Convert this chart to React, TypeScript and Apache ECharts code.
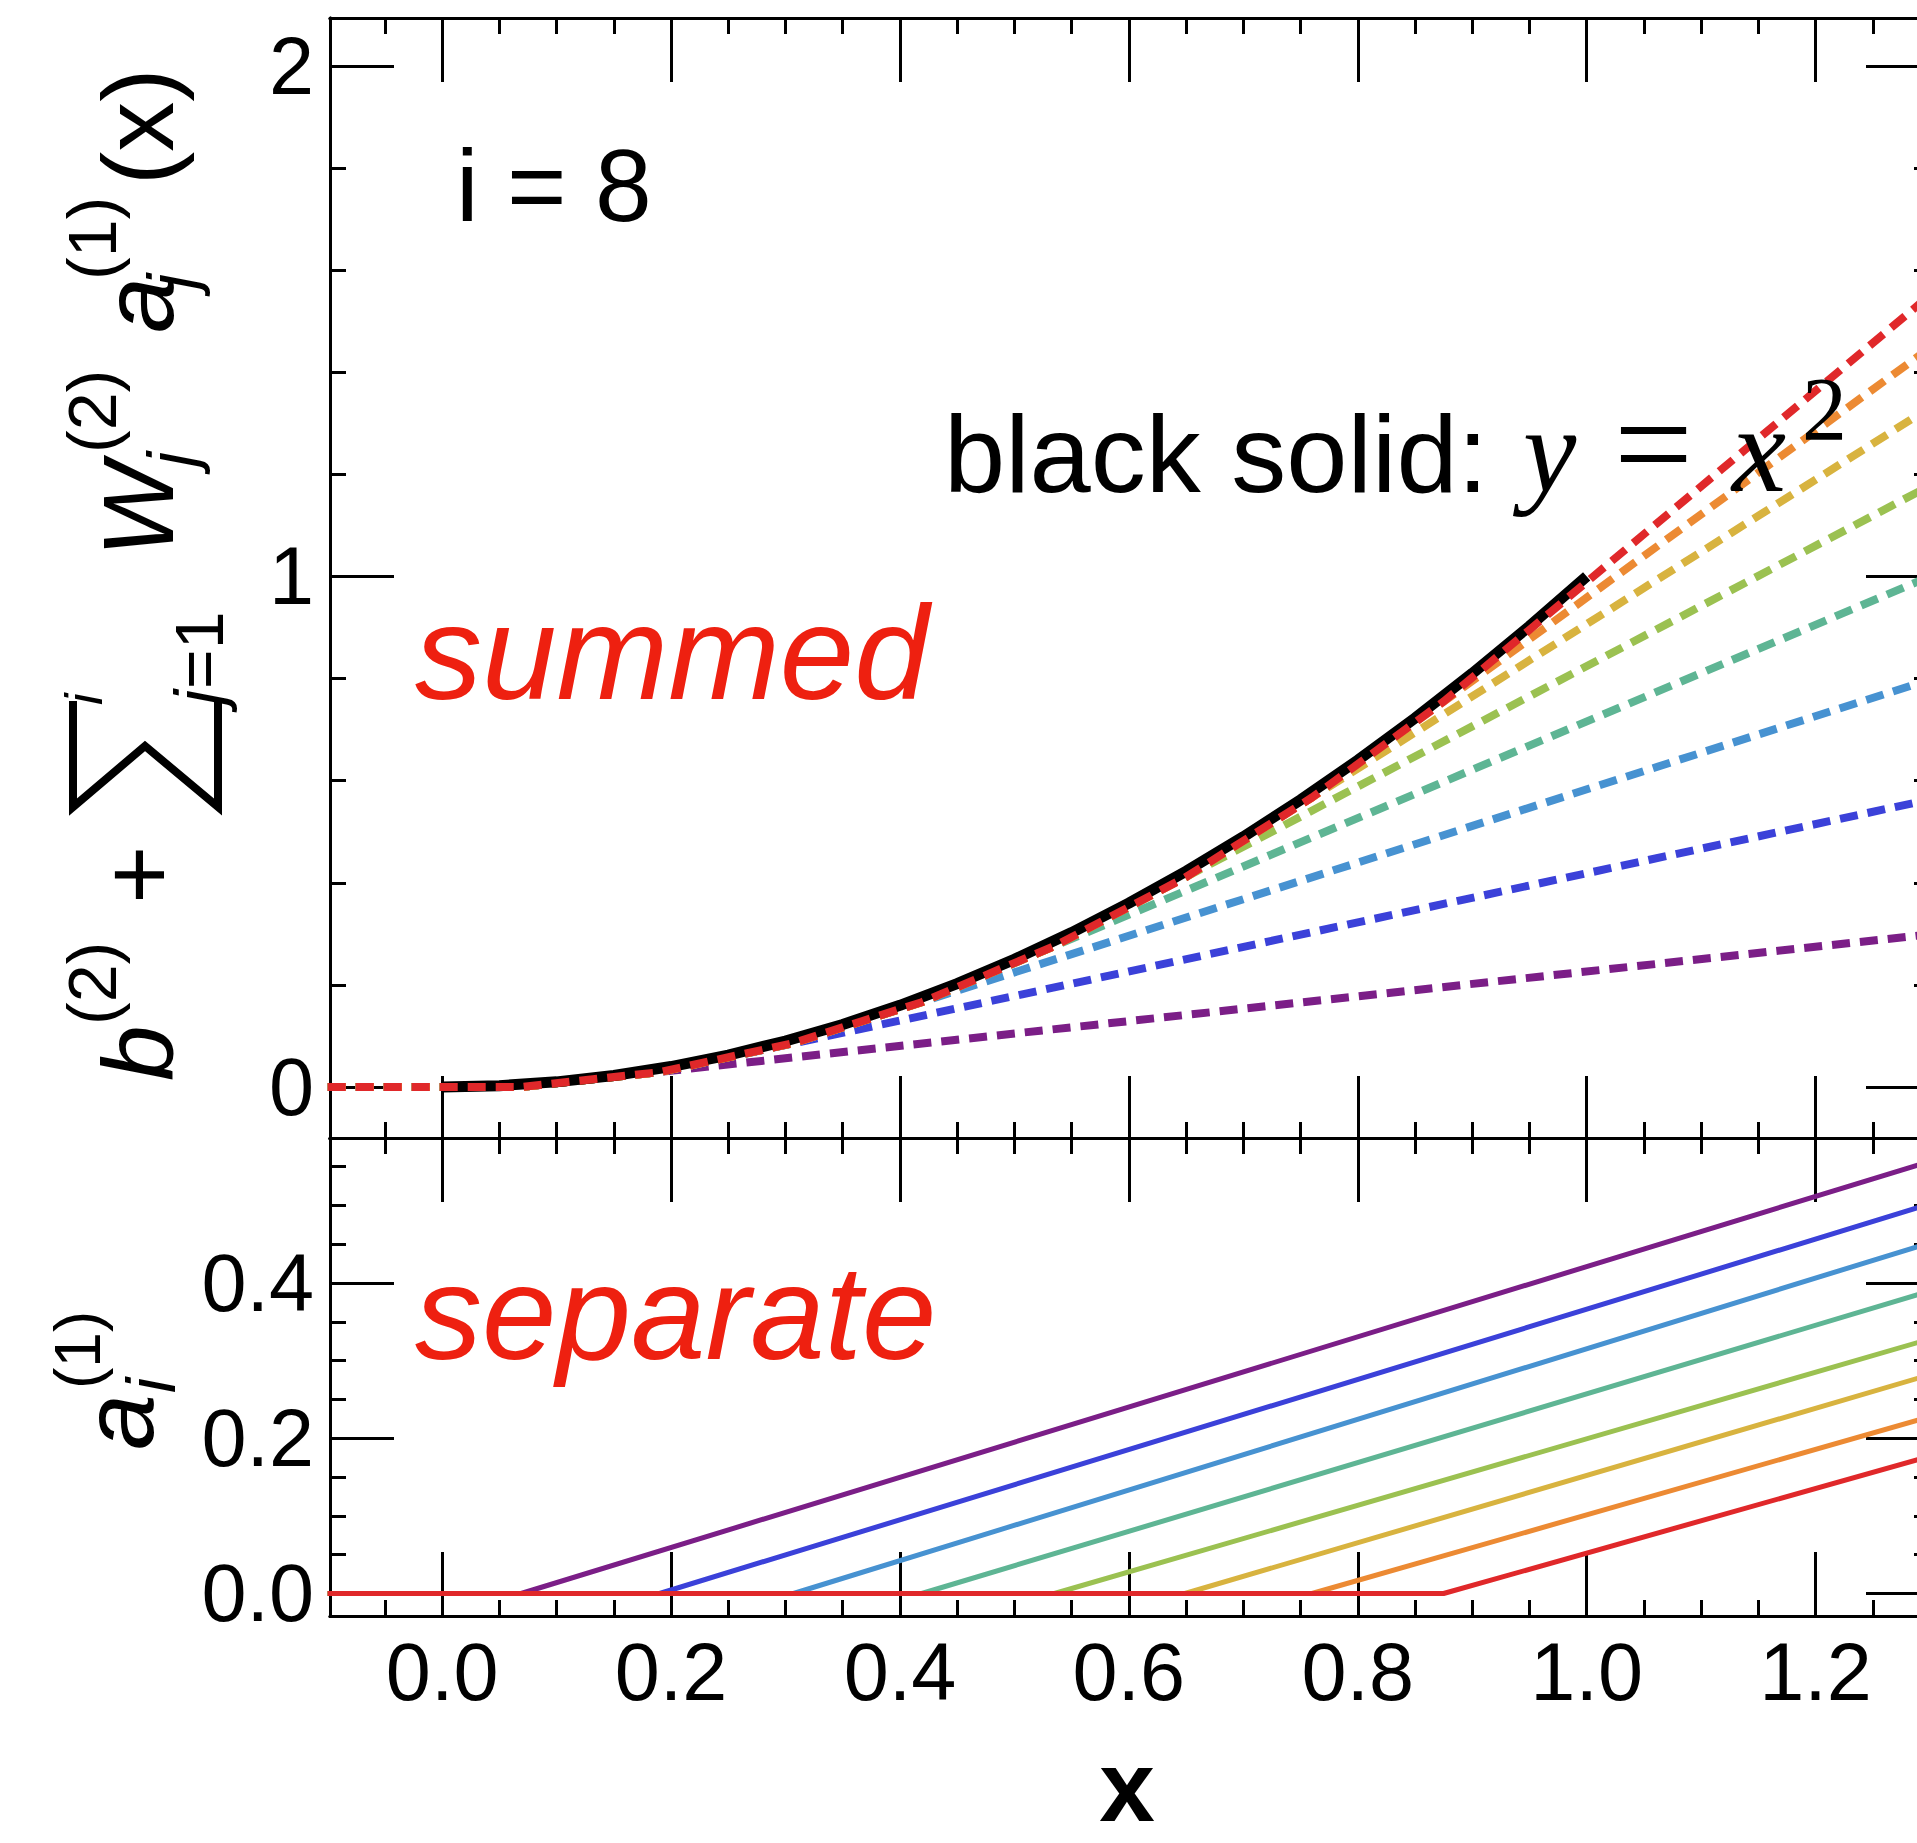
import React, { useEffect, useRef } from "react";
import * as echarts from "echarts";

// ---------------- data ----------------
const xStart = -0.1;
const xEnd = 1.3;
// kink positions of the 8 ReLU units (x where each a_i starts rising)
const kinkX = [0.069, 0.19, 0.307, 0.419, 0.535, 0.649, 0.76, 0.875];
// summed output b + sum W a at each kink
const summedAtKink = [0.0, 0.029, 0.086, 0.166, 0.276, 0.41, 0.567, 0.755];
// summed output (dashed line i) at the right end x = 1.3
const summedAtEnd = [0.299, 0.563, 0.798, 1.0, 1.178, 1.331, 1.448, 1.551];
// separate activations a_i at the right end x = 1.3 (they are 0 before the kink)
const activationFloor = 0;
const activationAtEnd = [0.557, 0.502, 0.452, 0.39, 0.328, 0.282, 0.228, 0.177];
// black solid y = x^2
const parabolaX = [0, 0.05, 0.1, 0.15, 0.2, 0.25, 0.3, 0.35, 0.4, 0.45, 0.5, 0.55, 0.6, 0.65, 0.7, 0.75, 0.8, 0.85, 0.9, 0.95, 1.0];
const parabolaY = [0, 0.0025, 0.01, 0.0225, 0.04, 0.0625, 0.09, 0.1225, 0.16, 0.2025, 0.25, 0.3025, 0.36, 0.4225, 0.49, 0.5625, 0.64, 0.7225, 0.81, 0.9025, 1.0];

const unitColors = ["#7B1E87", "#3B41D9", "#4792D1", "#5EB594", "#9BC151", "#D8B33F", "#EC8A33", "#E0282A"];

// axes
const xRange = [-0.098, 1.3];
const upperYRange = [-0.1, 2.094];
const lowerYRange = [-0.029, 0.587];
const xMajorTicks = [0, 0.2, 0.4, 0.6, 0.8, 1.0, 1.2];
const xMinorTicks = [-0.05, 0.05, 0.1, 0.15, 0.25, 0.3, 0.35, 0.45, 0.5, 0.55, 0.65, 0.7, 0.75, 0.85, 0.9, 0.95, 1.05, 1.1, 1.15, 1.25];
const upperYMajorTicks = [0, 1, 2];
const upperYMinorTicks = [0.2, 0.4, 0.6, 0.8, 1.2, 1.4, 1.6, 1.8];
const lowerYMajorTicks = [0, 0.2, 0.4];
const lowerYMinorTicks = [0.05, 0.1, 0.15, 0.25, 0.3, 0.35, 0.45, 0.5, 0.55];

const FONT = '"Liberation Sans", Arial, Helvetica, sans-serif';
const SERIF = '"Liberation Serif", "Times New Roman", Times, serif';
const RED = "#EE2010";

function txt(x: number, baseline: number, text: string, size: number, extra: any = {}) {
  const family = extra.family || FONT;
  const style: any = {
    text,
    fontSize: size,
    fontFamily: family,
    fontStyle: extra.italic ? "italic" : "normal",
    fontWeight: extra.bold ? "bold" : "normal",
    fill: extra.color || "#000",
    align: extra.align || "left",
    verticalAlign: "middle",
  };
  if (extra.lineHeight) style.lineHeight = extra.lineHeight;
  return {
    type: "text",
    x,
    y: baseline - 0.35 * size,
    z: 100,
    style,
  };
}

function axis(
  grid: number,
  position: string,
  range: number[],
  ticks: number[],
  len: number,
  label?: { fmt: (v: number) => string; margin: number }
) {
  return {
    type: "value",
    gridIndex: grid,
    position,
    min: range[0],
    max: range[1],
    axisLine: { show: true, onZero: false, lineStyle: { color: "#000", width: 3 } },
    axisTick: { show: true, inside: true, length: len, customValues: ticks, lineStyle: { color: "#000", width: 3 } },
    axisLabel: label
      ? {
          show: true,
          customValues: ticks,
          formatter: label.fmt,
          fontSize: 81,
          fontFamily: FONT,
          color: "#000",
          margin: label.margin,
        }
      : { show: false },
    splitLine: { show: false },
    minorTick: { show: false },
  };
}

export default function App() {
  const ref = useRef<HTMLDivElement>(null);
  useEffect(() => {
    if (!ref.current) return;
    const chart = echarts.init(ref.current, undefined, { renderer: "svg" });

    const series: any[] = [];
    const dashedSeries = (k: number) => {
      const pts: number[][] = [[xStart, summedAtKink[0]]];
      for (let j = 0; j <= k; j++) pts.push([kinkX[j], summedAtKink[j]]);
      pts.push([xEnd, summedAtEnd[k]]);
      return {
        type: "line",
        xAxisIndex: 0,
        yAxisIndex: 0,
        data: pts,
        symbol: "none",
        lineStyle: { color: unitColors[k], width: 8, type: [18, 10], cap: "butt" },
        z: 2,
      };
    };
    for (let k = 0; k < 7; k++) series.push(dashedSeries(k));
    series.push({
      type: "line",
      xAxisIndex: 0,
      yAxisIndex: 0,
      data: parabolaX.map((x, i) => [x, parabolaY[i]]),
      symbol: "none",
      lineStyle: { color: "#000", width: 11, type: "solid" },
      z: 2,
    });
    series.push(dashedSeries(7));

    for (let k = 0; k < 8; k++) {
      series.push({
        type: "line",
        xAxisIndex: 4,
        yAxisIndex: 4,
        data: [
          [xStart, activationFloor],
          [kinkX[k], activationFloor],
          [xEnd, activationAtEnd[k]],
        ],
        symbol: "none",
        lineStyle: { color: unitColors[k], width: 5 },
        z: 2,
      });
    }

    const fmt1 = (v: number) => v.toFixed(1);
    const fmt0 = (v: number) => String(Math.round(v));

    const upperTitle = {
      type: "group",
      x: 173,
      y: 1077,
      rotation: Math.PI / 2,
      z: 100,
      children: [
        txt(-4, 0, "b", 100, { italic: true }),
        txt(52, -57, "(2)", 68),
        txt(173, 0, "+", 100),
        {
          type: "polyline",
          shape: { points: [[376, -100], [270, -100], [331, -28], [270, 45], [378, 45]] },
          style: { stroke: "#000", lineWidth: 8, fill: null, lineJoin: "miter" },
        },
        txt(372, -71, "i", 52, { italic: true }),
        txt(372, 50, "j", 68, { italic: true }),
        txt(388, 50, "=1", 68),
        txt(520, 0, "W", 100, { italic: true }),
        txt(610, 23, "j", 68, { italic: true }),
        txt(624, -57, "(2)", 68),
        txt(744, 0, "a", 100, { italic: true }),
        txt(788, 23, "j", 68, { italic: true }),
        txt(797, -57, "(1)", 68),
        txt(892, 0, "(x)", 100),
      ],
    };

    const lowerTitle = {
      type: "group",
      x: 153,
      y: 1447,
      rotation: Math.PI / 2,
      z: 100,
      children: [
        txt(-3, 0, "a", 100, { italic: true }),
        txt(54, 22, "i", 68, { italic: true }),
        txt(58, -53, "(1)", 64),
      ],
    };

    const option: any = {
      animation: false,
      backgroundColor: "#ffffff",
      grid: [
        { left: 330, top: 18, width: 1600, height: 1120, outerBoundsMode: "none", containLabel: false },
        { left: 330, top: 1138, width: 1600, height: 478, outerBoundsMode: "none", containLabel: false },
      ],
      xAxis: [
        axis(0, "bottom", xRange, xMajorTicks, 62),
        axis(0, "bottom", xRange, xMinorTicks, 16),
        axis(0, "top", xRange, xMajorTicks, 64),
        axis(0, "top", xRange, xMinorTicks, 16),
        axis(1, "bottom", xRange, xMajorTicks, 64, { fmt: fmt1, margin: 15 }),
        axis(1, "bottom", xRange, xMinorTicks, 16),
        axis(1, "top", xRange, xMajorTicks, 64),
        axis(1, "top", xRange, xMinorTicks, 16),
      ],
      yAxis: [
        axis(0, "left", upperYRange, upperYMajorTicks, 64, { fmt: fmt0, margin: 16 }),
        axis(0, "left", upperYRange, upperYMinorTicks, 16),
        axis(0, "right", upperYRange, upperYMajorTicks, 64),
        axis(0, "right", upperYRange, upperYMinorTicks, 16),
        axis(1, "left", lowerYRange, lowerYMajorTicks, 64, { fmt: fmt1, margin: 16 }),
        axis(1, "left", lowerYRange, lowerYMinorTicks, 16),
        axis(1, "right", lowerYRange, lowerYMajorTicks, 64),
        axis(1, "right", lowerYRange, lowerYMinorTicks, 16),
      ],
      series,
      graphic: [
        txt(456, 222, "i = 8", 102),
        txt(944, 492, "black solid:", 110),
        txt(1523, 492, "y", 120, { italic: true, family: SERIF }),
        txt(1614, 492, "=", 140, { family: SERIF }),
        txt(1732, 492, "x", 122, { italic: true, family: SERIF }),
        txt(1802, 441, "2", 90, { family: SERIF }),
        txt(415, 699, "summed", 134, { italic: true, color: RED }),
        txt(415, 1359, "separate", 134, { italic: true, color: RED }),
        txt(1127, 1821, "x", 100, { bold: true, align: "center", lineHeight: 60 }),
        upperTitle,
        lowerTitle,
      ],
    };

    chart.setOption(option);
    return () => chart.dispose();
  }, []);

  return (
    <div
      ref={ref}
      style={{ position: "fixed", left: 0, top: 0, width: 1917, height: 1843, background: "#fff" }}
    />
  );
}
